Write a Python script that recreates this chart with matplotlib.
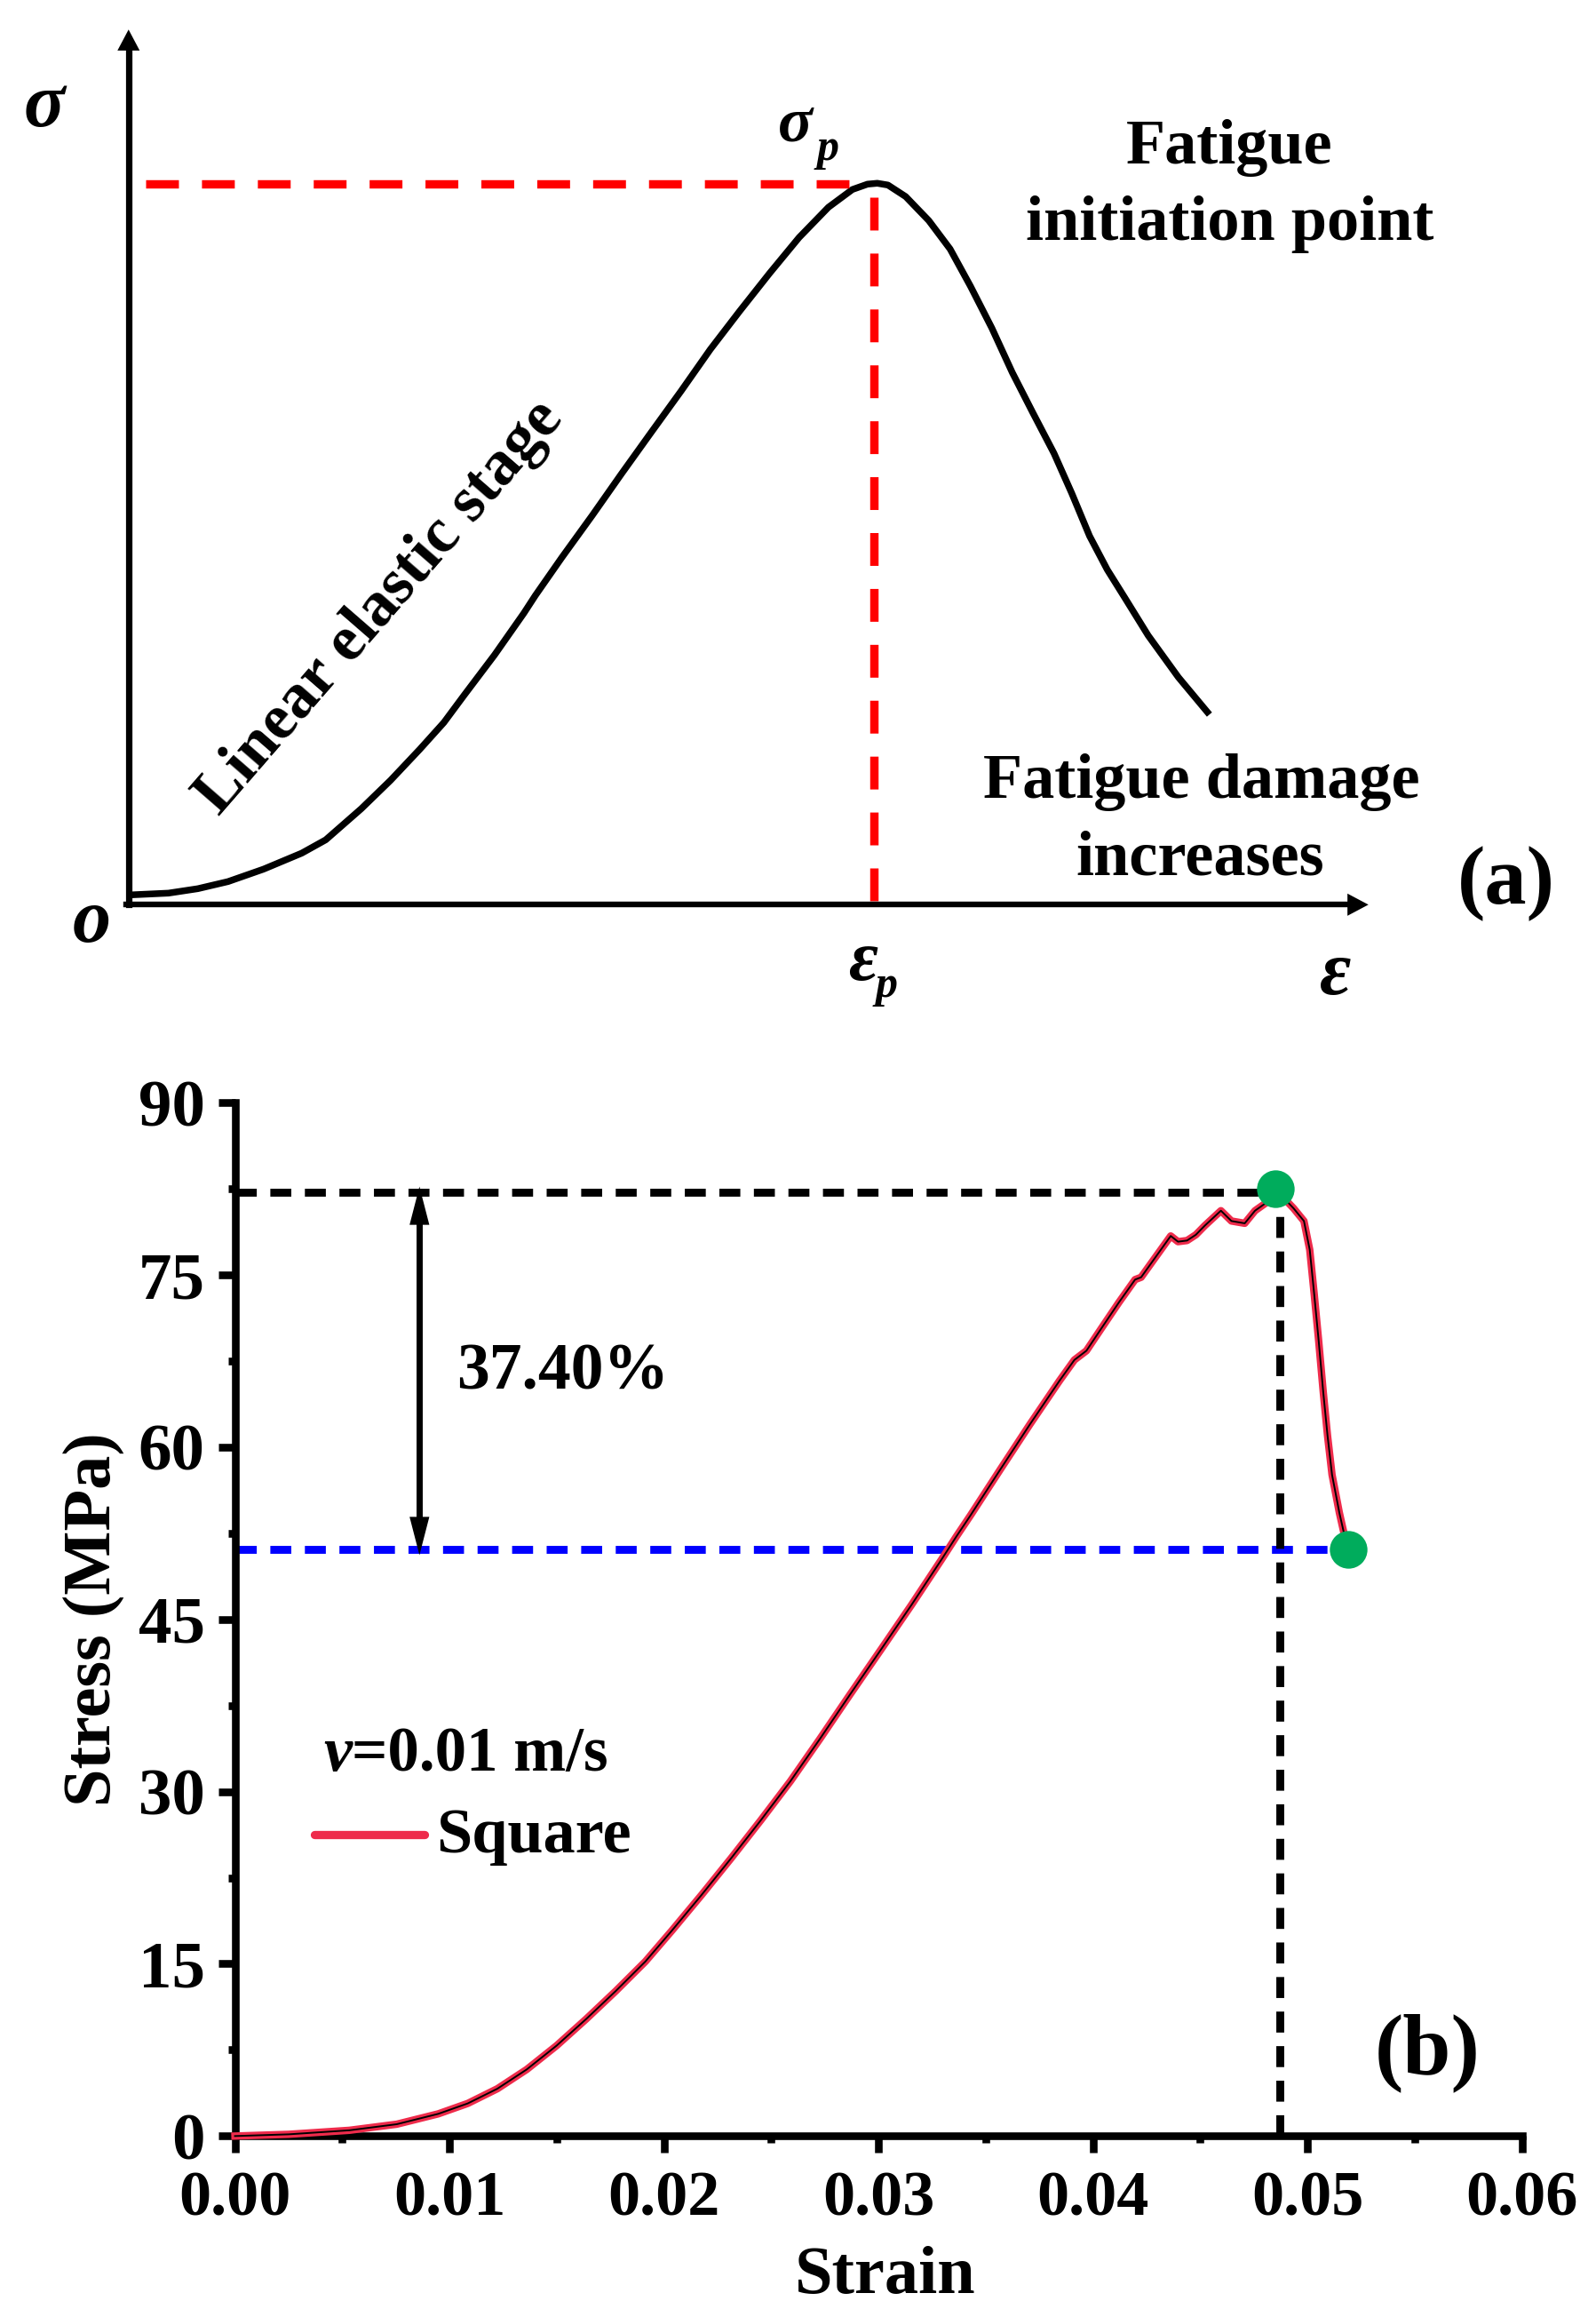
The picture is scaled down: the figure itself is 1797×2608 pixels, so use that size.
import matplotlib
matplotlib.use('Agg')
import matplotlib.pyplot as plt

plt.rcParams['font.family'] = ['Liberation Serif', 'DejaVu Serif']
plt.rcParams['font.weight'] = 'bold'
plt.rcParams['lines.scale_dashes'] = False

# panel (a), schematic curve
sketch_x = [2, 45, 78, 112, 152, 195, 222, 262, 295, 328, 355, 378, 412, 445, 458, 488, 522, 555, 588, 622, 655,
            688, 722, 755, 788, 815, 832, 843, 855, 875, 901, 925, 948, 972, 995, 1018, 1042, 1062, 1082, 1102,
            1122, 1148, 1182, 1217]
sketch_y = [11, 13, 18, 26, 40, 58, 73, 108, 140, 175, 205, 236, 281, 328, 348, 391, 438, 485, 531, 578, 625,
            668, 711, 751, 785, 805, 811, 812, 810, 797, 770, 738, 696, 649, 599, 554, 508, 463, 415, 377,
            345, 303, 256, 214]
peak_sketch_x = 839
peak_sketch_y = 811

# panel (b), stress-strain curve
strain = [0.0, 0.0025, 0.00533, 0.00754, 0.00947, 0.01085, 0.01223, 0.0136, 0.01499, 0.01637, 0.01775, 0.01913,
          0.02037, 0.02175, 0.02313, 0.02451, 0.02589, 0.02727, 0.02865, 0.03016, 0.03155, 0.03293, 0.03362,
          0.0343, 0.03569, 0.03706, 0.03844, 0.03913, 0.03969, 0.04037, 0.0412, 0.04196, 0.04224, 0.04362,
          0.04396, 0.04438, 0.04479, 0.04521, 0.04596, 0.04645, 0.04707, 0.04755, 0.04838, 0.04879, 0.04935,
          0.04983, 0.0501, 0.05031, 0.05052, 0.05073, 0.05093, 0.05114, 0.05148, 0.05183, 0.0519]
stress = [0.0, 0.15, 0.5, 1.03, 1.93, 2.84, 4.12, 5.8, 7.87, 10.19, 12.63, 15.2,
          17.9, 21.0, 24.2, 27.5, 30.9, 34.6, 38.4, 42.5, 46.3, 50.2, 52.2,
          54.1, 58.1, 62.0, 65.8, 67.6, 68.4, 70.3, 72.6, 74.6, 74.8, 78.4,
          77.9, 78.0, 78.5, 79.3, 80.6, 79.7, 79.5, 80.6, 81.7, 81.9, 80.8,
          79.7, 77.2, 73.3, 69.2, 64.8, 61.0, 57.6, 54.3, 51.4, 51.1]
peak_strain = 0.0487
peak_stress = 82.2
end_strain = 0.0519
end_stress = 51.1
xticks = [0.0, 0.01, 0.02, 0.03, 0.04, 0.05, 0.06]
yticks = [0, 15, 30, 45, 60, 75, 90]

W = 1797
H = 2608
S = W / 1080.0


def fx(x):
    return x * S / W


def fy(y):
    return 1 - y * S / H


fig = plt.figure(figsize=(W / 100, H / 100), dpi=100)

# (a)
ax1 = fig.add_axes([fx(87), fy(612), fx(926) - fx(87), fy(20) - fy(612)])
ax1.set_xlim(0, 1396)
ax1.set_ylim(0, 985)
ax1.axis('off')
ax1.plot(sketch_x, sketch_y, color='black', lw=5.4, clip_on=False, solid_capstyle='butt')
red_dash = (0, (26.6, 18.7))
ax1.plot([19, peak_sketch_x - 27], [peak_sketch_y, peak_sketch_y], color='#ff0000', lw=6.8, ls=red_dash)
ax1.plot([peak_sketch_x, peak_sketch_x], [peak_sketch_y - 15, 4], color='#ff0000', lw=6.8, ls=red_dash)
ax1.plot([0, 0], [0, 960], color='black', lw=5.2, clip_on=False)
ax1.plot([-3, 1370], [0, 0], color='black', lw=4.6, clip_on=False)
head = '-|>,head_length=0.85,head_width=0.45'
ax1.annotate('', xy=(0, 985), xytext=(0, 900),
             arrowprops=dict(arrowstyle=head, color='black', lw=0, mutation_scale=20, shrinkA=0, shrinkB=0))
ax1.annotate('', xy=(1396, 0), xytext=(1300, 0),
             arrowprops=dict(arrowstyle=head, color='black', lw=0, mutation_scale=20, shrinkA=0, shrinkB=0))

# (b)
ax2 = fig.add_axes([fx(159), fy(1445), fx(1030) - fx(159), fy(746) - fy(1445)])
ax2.set_xlim(0, 0.06)
ax2.set_ylim(0, 90)
ax2.plot(strain, stress, color='#ee2b4b', lw=6, clip_on=False, zorder=3)
ax2.plot(strain, stress, color='black', lw=1.4, clip_on=False, zorder=3.1)
ax2.plot([0, peak_strain], [peak_stress, peak_stress], color='black', lw=6.4, ls=(0, (17, 11)), zorder=2)
ax2.plot([0, end_strain], [end_stress, end_stress], color='#0000ff', lw=6.4, ls=(0, (17, 11)), zorder=2)
ax2.plot([peak_strain, peak_strain], [0, peak_stress], color='black', lw=6.4, ls=(0, (17, 11)), zorder=4)
ax2.plot([peak_strain - 0.0002, end_strain], [peak_stress + 0.3, end_stress], ls='none', marker='o',
         ms=30.5, color='#00ac5c', mew=0, clip_on=False, zorder=5)
ax2.plot([0.0086, 0.0086], [end_stress + 2, peak_stress - 2], color='black', lw=5, solid_capstyle='butt')
ax2.annotate('', xy=(0.0086, peak_stress + 0.5), xytext=(0.0086, end_stress - 0.5),
             arrowprops=dict(arrowstyle='<|-|>,head_length=1.55,head_width=0.4', color='black', lw=0,
                             mutation_scale=20, shrinkA=0, shrinkB=0))

for side in ['top', 'right']:
    ax2.spines[side].set_visible(False)
for side in ['left', 'bottom']:
    ax2.spines[side].set_linewidth(6.2)
ax2.set_xticks(xticks)
ax2.set_xticklabels(['%.2f' % t for t in xticks])
ax2.set_yticks(yticks)
ax2.set_xticks([0.005, 0.015, 0.025, 0.035, 0.045, 0.055], minor=True)
ax2.set_yticks([7.5, 22.5, 37.5, 52.5, 67.5, 82.5], minor=True)
ax2.tick_params(which='major', length=13.5, width=6.2)
ax2.tick_params(which='minor', length=5.5, width=6.2)
ax2.tick_params(axis='x', which='major', labelsize=52, pad=15)
ax2.tick_params(axis='y', which='major', labelsize=54, pad=11)
ax2.set_xlabel('Strain', fontsize=55, fontweight='bold', labelpad=6)
ax2.xaxis.set_label_coords(0.505, -0.106)
ax2.set_ylabel('Stress (MPa)', fontsize=55, fontweight='bold', labelpad=11)


def label(x, y, s, size, style='normal', rotation=0, ha='center', va='center'):
    fig.text(fx(x), fy(y), s, fontsize=size, fontweight='bold', fontstyle=style, rotation=rotation,
             ha=ha, va=va, rotation_mode='anchor')


# (a) texts
label(30, 73, 'σ', 62, 'italic')
label(62, 625, 'o', 62, 'italic')
label(904, 660, 'ε', 62, 'italic')
label(538, 85, 'σ', 52, 'italic')
label(560, 101, 'p', 36, 'italic')
label(584, 651, 'ε', 58, 'italic')
label(600, 667, 'p', 36, 'italic')
label(832, 100, 'Fatigue', 52)
label(832, 152, 'initiation point', 52)
label(813, 529, 'Fatigue damage', 52)
label(812, 581, 'increases', 52)
label(1019, 598, '(a)', 68)
label(257, 411, 'Linear elastic stage', 52, rotation=49)

# (b) texts
label(381, 929, '37.40%', 53)
label(219, 1198, 'v', 52, 'italic', ha='left', va='baseline')
label(238, 1198, '=0.01 m/s', 51, ha='left', va='baseline')
label(295, 1253, 'Square', 52, ha='left', va='baseline')
label(966, 1389, '(b)', 70)
fig.add_artist(plt.Line2D([fx(213), fx(287)], [fy(1241), fy(1241)], color='#ee2b4b', lw=6.7,
                          solid_capstyle='round'))

fig.savefig('out.png', dpi=100)
